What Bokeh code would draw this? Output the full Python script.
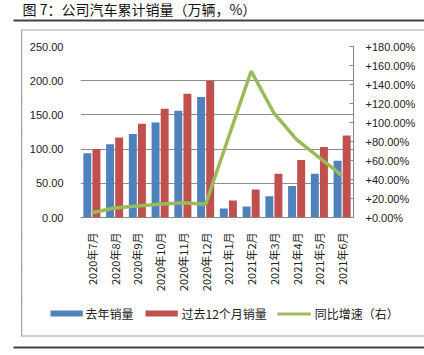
from bokeh.plotting import figure
from bokeh.models import (Range1d, FactorRange, LinearAxis, FixedTicker, PrintfTickFormatter,
                          Label, ColumnDataSource)
from bokeh.transform import dodge
from bokeh.embed import file_html
from bokeh.resources import INLINE
import math

months = ["2020年7月", "2020年8月", "2020年9月", "2020年10月", "2020年11月", "2020年12月",
          "2021年1月", "2021年2月", "2021年3月", "2021年4月", "2021年5月", "2021年6月"]
last_year_sales = [94, 107, 122, 139, 156, 176, 13, 16, 31, 46, 64, 83]
trailing12_sales = [100, 117, 137, 159, 181, 200, 25, 41, 64, 84, 103, 120]
yoy_growth = [5, 10, 12, 14, 15.5, 14, 84, 154, 110, 82, 63, 44]

left_ticks = [0, 50, 100, 150, 200, 250]
right_ticks = [0, 20, 40, 60, 80, 100, 120, 140, 160, 180]

title_text = "图 7：公司汽车累计销量（万辆，%）"
source_text = "数据来源：公司公告，Wind，中国银河证券研究所"
names = ["去年销量", "过去12个月销量", "同比增速（右）"]

BLUE = "#4F81BD"
RED = "#C0504D"
GREEN = "#9BBB59"
CJK = "Noto Sans CJK SC"
NUM = "Liberation Sans"

src = ColumnDataSource(dict(m=months, a=last_year_sales, b=trailing12_sales, g=yoy_growth))

p = figure(width=424, height=355, x_range=FactorRange(*months), y_range=Range1d(0, 250),
           output_backend="svg", toolbar_location=None,
           min_border_left=80, min_border_right=71, min_border_top=46, min_border_bottom=138)
p.outline_line_color = None
p.background_fill_color = "white"
p.border_fill_color = "white"
p.extra_y_ranges = {"pct": Range1d(0, 180)}

rb = p.vbar(x=dodge("m", -0.2, range=p.x_range), top="a", width=0.35, source=src,
            fill_color=BLUE, line_color=None)
rr = p.vbar(x=dodge("m", 0.2, range=p.x_range), top="b", width=0.35, source=src,
            fill_color=RED, line_color=None)
rg = p.line(x="m", y="g", source=src, y_range_name="pct", line_color=GREEN, line_width=3.5)

# left axis
ya = p.yaxis[0]
ya.ticker = FixedTicker(ticks=left_ticks)
ya.formatter = PrintfTickFormatter(format="%.2f")
ya.axis_line_color = None
ya.major_tick_line_color = None
ya.minor_tick_line_color = None
ya.major_label_text_font = NUM
ya.major_label_text_font_size = "11px"
ya.major_label_text_color = "#222222"
ya.major_label_standoff = 11

# right axis
ra = LinearAxis(y_range_name="pct", ticker=FixedTicker(ticks=right_ticks),
                formatter=PrintfTickFormatter(format="+%.2f%%"))
ra.axis_line_color = "#888888"
ra.major_tick_line_color = "#888888"
ra.major_tick_in = 4
ra.major_tick_out = 0
ra.minor_tick_line_color = None
ra.major_label_text_font = NUM
ra.major_label_text_font_size = "11px"
ra.major_label_text_color = "#222222"
ra.major_label_standoff = 12
p.add_layout(ra, "right")

# bottom axis
xa = p.xaxis[0]
xa.major_label_orientation = math.pi / 2
xa.major_label_text_font = CJK
xa.major_label_text_font_size = "11px"
xa.major_label_text_color = "#222222"
xa.axis_line_color = "#888888"
xa.major_tick_line_color = None
xa.minor_tick_line_color = None
xa.major_label_standoff = 9

p.ygrid.ticker = FixedTicker(ticks=left_ticks)
p.ygrid.grid_line_color = "#8c8c8c"
p.xgrid.grid_line_color = None


def rule(x, y, pad, color):
    # a blank label whose padded background draws a thin rule or a legend swatch
    return Label(x=x, y=y, x_units="canvas", y_units="canvas", text=" ",
                 text_font_size="1px", text_align="left", text_baseline="top",
                 padding=pad, background_fill_color=color)


# top of page
p.add_layout(Label(x=22, y=8.5, x_units="canvas", y_units="canvas", text=title_text,
                   text_font=CJK, text_font_size="14px", text_baseline="middle",
                   text_color="#111111"), "above")
p.add_layout(rule(13, 19, (0, 411, 1, 0), "#404040"), "above")
p.add_layout(rule(21, 29, (0, 403, 0, 0), "#a6a6a6"), "above")

# left edge of the chart box, in short segments
for y0 in range(29, 335, 34):
    p.add_layout(rule(20.5, y0, (0, 1, 34, 0), "#a6a6a6"), "left")

# legend (swatches + labels)
p.add_layout(rule(50, 310, (0, 32, 5, 0), BLUE), "above")
p.add_layout(rule(145, 310, (0, 32, 5, 0), RED), "above")
p.add_layout(rule(277, 312, (0, 33, 2, 0), GREEN), "above")
legend_text = "\u3000\u3000\u3000\u3000".join(names)
p.add_layout(Label(x=85, y=313, x_units="canvas", y_units="canvas", text=legend_text,
                   text_font=CJK, text_font_size="12px", text_baseline="middle",
                   text_color="#222222"), "below")

# bottom of page
p.add_layout(rule(21, 335, (0, 403, 0, 0), "#a6a6a6"), "below")
p.add_layout(rule(13, 346, (0, 411, 1, 0), "#404040"), "below")
p.add_layout(Label(x=22, y=351.5, x_units="canvas", y_units="canvas", text=source_text,
                   text_font=CJK, text_font_size="13px", text_baseline="top",
                   text_color="#111111"), "below")

open("out.html", "w").write(file_html(p, INLINE))
